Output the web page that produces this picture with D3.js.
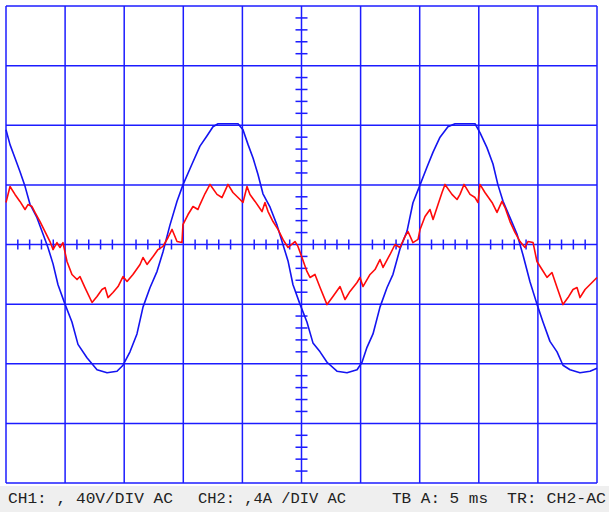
<!DOCTYPE html>
<html>
<head>
<meta charset="utf-8">
<script src="https://cdn.jsdelivr.net/npm/d3@7"></script>
<style>
  html, body { margin: 0; padding: 0; background: #ffffff; }
  svg { display: block; }
</style>
</head>
<body>
<svg id="scope"></svg>
<script>
// CH1 voltage trace (ms, volts)
const timeV = [0, 0.34, 0.76, 1.18, 1.61, 2.03, 2.62, 3.13, 3.55, 3.98, 4.40, 4.99, 5.58, 6.09, 6.85, 7.70,
  8.55, 9.39, 9.90, 10.49, 11.08, 11.59, 12.18, 12.78, 13.28, 13.87, 14.47, 14.97, 15.74, 16.41, 17.01,
  17.51, 17.94, 19.63, 20.05, 20.48, 20.90, 21.32, 21.74, 22.34, 22.93, 23.43, 23.86, 24.28, 24.87, 25.46,
  25.97, 26.57, 27.16, 28.00, 28.85, 29.70, 30.12, 30.54, 31.05, 31.64, 32.23, 32.74, 33.33, 33.93, 34.43,
  35.03, 35.62, 36.13, 36.72, 37.39, 37.99, 39.68, 40.10, 40.69, 41.20, 41.62, 42.05, 42.64, 43.23, 43.74,
  44.33, 44.92, 45.43, 46.02, 46.62, 47.12, 47.72, 48.56, 49.41, 50.0];
const volts = [77, 67, 58, 49, 39, 27, 18, 7, -2, -13, -27, -40, -52, -67, -76, -84,
  -86, -85, -81, -72, -60, -42, -29, -18, -5, 13, 29, 40, 54, 66, 73,
  79, 81, 81, 77, 67, 58, 47, 34, 25, 13, 0, -11, -27, -40, -52,
  -66, -72, -79, -85, -86, -84, -79, -69, -60, -42, -29, -20, -3, 9, 28,
  40, 52, 62, 72, 79, 81, 81, 75, 65, 54, 40, 29, 18, 7, -7,
  -25, -40, -52, -65, -72, -81, -84, -86, -85, -83];

// CH2 current trace (ms, amps)
const timeI = [0, 0.34, 0.76, 1.18, 1.61, 1.86, 2.20, 2.45, 2.88, 3.30, 3.72, 3.98, 4.31, 4.57, 4.82, 5.16,
  5.58, 6.01, 6.26, 6.68, 7.28, 7.70, 8.12, 8.38, 8.63, 9.05, 9.48, 9.90, 10.24, 10.74, 11.34, 11.59,
  11.93, 12.44, 12.86, 13.28, 13.71, 14.05, 14.47, 14.89, 14.97, 15.40, 15.82, 16.24, 16.41, 16.84, 17.26,
  17.85, 18.27, 18.78, 19.20, 19.80, 20.05, 20.39, 20.64, 21.07, 21.66, 21.91, 22.17, 22.59, 23.01, 23.43,
  23.86, 24.45, 24.70, 25.04, 25.46, 25.72, 26.14, 26.57, 27.16, 27.66, 28.26, 28.68, 29.10, 29.70, 29.95,
  30.20, 30.80, 31.22, 31.64, 31.90, 32.49, 32.91, 33.33, 33.76, 34.01, 34.43, 34.86, 35.03, 35.45, 35.87,
  36.13, 36.55, 36.89, 37.14, 37.73, 38.16, 38.41, 38.75, 39.26, 39.68, 39.93, 40.10, 40.52, 41.12, 41.54,
  41.96, 42.22, 42.64, 43.06, 43.49, 43.91, 44.16, 44.59, 44.92, 45.35, 45.77, 46.19, 46.62, 47.12, 47.55,
  47.97, 48.31, 48.56, 48.99, 49.58, 50.0];
const amps = [2.82, 3.89, 3.36, 2.89, 2.35, 2.68, 2.55, 2.15, 1.54, 0.87, 0.20, -0.34, 0.13, -0.20, 0.13, -1.14,
  -2.01, -2.35, -2.15, -2.89, -3.89, -3.49, -3.02, -2.89, -3.56, -3.22, -2.82, -2.15, -2.48, -2.01, -1.34, -0.87,
  -1.34, -0.81, -0.34, -0.13, 0.47, 1.01, 0.20, 0.13, 1.34, 2.01, 2.55, 2.35, 2.68, 3.42, 4.03,
  3.36, 3.15, 4.03, 3.49, 3.02, 2.82, 3.89, 3.36, 2.89, 2.21, 2.82, 2.21, 1.54, 1.01, 0.34,
  -0.20, 0.20, -0.13, -0.87, -1.81, -2.21, -2.01, -2.89, -4.03, -3.49, -2.82, -3.69, -3.15, -2.55, -2.21,
  -2.82, -2.01, -1.68, -1.01, -1.54, -0.67, 0, -0.20, 0.54, 0.87, 0.13, 0.34, 1.01, 1.88, 2.35,
  1.68, 2.68, 3.49, 4.03, 3.36, 3.02, 3.36, 4.03, 3.36, 3.15, 2.82, 4.03, 3.49, 2.82, 2.15,
  2.89, 2.48, 1.54, 0.81, 0.20, -0.20, 0.20, 0.13, -1.14, -1.68, -2.21, -1.88, -2.89, -4.03, -3.56,
  -3.02, -2.89, -3.56, -3.02, -2.55, -2.21];

// Settings shown in the status bar
const statusLabels = ["CH1: , 40V/DIV AC", "CH2: ,4A /DIV AC", "TB A: 5 ms", "TR: CH2-AC"];

const width = 609, height = 512;
const svg = d3.select("#scope").attr("width", width).attr("height", height);

// 10 x 8 divisions: 5 ms/div, 40 V/div, 4 A/div
const x = d3.scaleLinear().domain([0, 50]).range([6, 597]);
const yV = d3.scaleLinear().domain([-160, 160]).range([483, 6]);
const yI = d3.scaleLinear().domain([-16, 16]).range([483, 6]);

const gridColor = "#1c1cff";

// status bar
svg.append("rect")
    .attr("x", 0).attr("y", 486)
    .attr("width", width).attr("height", height - 486)
    .attr("fill", "#efefef");

svg.append("rect")
    .attr("x", 0).attr("y", 0)
    .attr("width", width).attr("height", 486)
    .attr("fill", "#ffffff");

const grid = svg.append("g");

// vertical division lines
grid.selectAll("line.v")
    .data(d3.range(0, 51, 5))
    .join("line")
    .attr("x1", d => x(d)).attr("x2", d => x(d))
    .attr("y1", yV(160)).attr("y2", yV(-160))
    .attr("stroke", gridColor)
    .attr("stroke-width", 1.5);

// horizontal division lines
grid.selectAll("line.h")
    .data(d3.range(-160, 161, 40))
    .join("line")
    .attr("x1", x(0)).attr("x2", x(50))
    .attr("y1", d => yV(d)).attr("y2", d => yV(d))
    .attr("stroke", gridColor)
    .attr("stroke-width", 1.5);

// minor ticks on the centre axes
grid.selectAll("line.tx")
    .data(d3.range(0, 51, 1).filter(d => d % 5 !== 0))
    .join("line")
    .attr("x1", d => x(d)).attr("x2", d => x(d))
    .attr("y1", yV(0) - 5).attr("y2", yV(0) + 5)
    .attr("stroke", gridColor)
    .attr("stroke-width", 1.5);

grid.selectAll("line.ty")
    .data(d3.range(-160, 161, 8).filter(d => d % 40 !== 0))
    .join("line")
    .attr("x1", x(25) - 6).attr("x2", x(25) + 6)
    .attr("y1", d => yV(d)).attr("y2", d => yV(d))
    .attr("stroke", gridColor)
    .attr("stroke-width", 1.5);

// traces
const lineV = d3.line()
    .x((d, i) => x(timeV[i]))
    .y(d => yV(d));

const lineI = d3.line()
    .x((d, i) => x(timeI[i]))
    .y(d => yI(d));

svg.append("path")
    .datum(volts)
    .attr("d", lineV)
    .attr("fill", "none")
    .attr("stroke", "#1414f0")
    .attr("stroke-width", 1.6)
    .attr("stroke-linejoin", "round");

svg.append("path")
    .datum(amps)
    .attr("d", lineI)
    .attr("fill", "none")
    .attr("stroke", "#ff0a0a")
    .attr("stroke-width", 1.6)
    .attr("stroke-linejoin", "round");

// status text
const labelX = [8, 198, 392, 507];
const labelW = [165, 148, 96, 99];
svg.selectAll("text.status")
    .data(statusLabels)
    .join("text")
    .attr("x", (d, i) => labelX[i])
    .attr("y", 503)
    .attr("textLength", (d, i) => labelW[i])
    .attr("lengthAdjust", "spacingAndGlyphs")
    .attr("font-family", "Liberation Mono, DejaVu Sans Mono, monospace")
    .attr("font-size", 15)
    .attr("fill", "#222")
    .text(d => d);
</script>
</body>
</html>
